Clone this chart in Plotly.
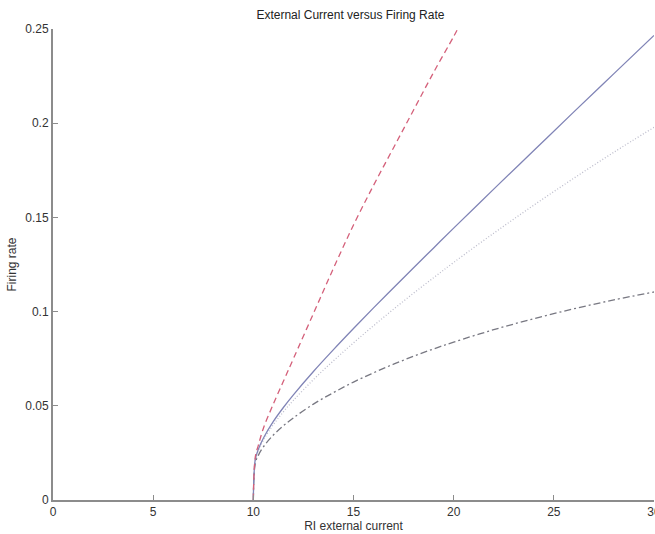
import plotly.graph_objects as go

# RI external current (x) values
current = [10, 10.1, 10.25, 10.5, 11, 11.5, 12, 13, 14, 15, 16, 17, 18, 19, 20,
           22, 24, 26, 28, 30]

# red dashed curve (leaves the plot at the top near x=20.2)
red_x = [10, 10.1, 10.25, 10.5, 11, 11.5, 12, 13, 14, 15, 16, 17, 18, 19, 20, 20.2]
red_y = [0, 0.023, 0.029, 0.038, 0.051, 0.063, 0.075, 0.099, 0.123, 0.146, 0.167,
         0.187, 0.207, 0.227, 0.246, 0.25]

# blue solid curve
blue_y = [0, 0.0217, 0.0269, 0.0328, 0.0417, 0.0491, 0.0558, 0.0682, 0.0798, 0.0910,
          0.1020, 0.1127, 0.1233, 0.1338, 0.1443, 0.1650, 0.1855, 0.2060, 0.2263, 0.2466]

# light dotted curve
dot_y = [0, 0.0212, 0.0262, 0.0318, 0.0400, 0.0468, 0.0529, 0.0639, 0.0739, 0.0834,
         0.0925, 0.1013, 0.1098, 0.1180, 0.1261, 0.1416, 0.1565, 0.1708, 0.1846, 0.1978]

# dash-dot curve
dashdot_y = [0, 0.0196, 0.0237, 0.0282, 0.0345, 0.0394, 0.0436, 0.0509, 0.0570, 0.0626,
             0.0675, 0.0721, 0.0763, 0.0802, 0.0838, 0.0904, 0.0962, 0.1015, 0.1062, 0.1104]

x_ticks = [0, 5, 10, 15, 20, 25, 30]
y_ticks = [0, 0.05, 0.1, 0.15, 0.2, 0.25]
y_tick_text = ["0", "0.05", "0.1", "0.15", "0.2", "0.25"]

fig = go.Figure()
fig.add_trace(go.Scatter(x=current, y=dashdot_y, mode="lines",
                         line=dict(color="#787882", width=1.3, dash="7px,3px,2px,3px", shape="spline")))
fig.add_trace(go.Scatter(x=current, y=dot_y, mode="lines",
                         line=dict(color="#bdbdcc", width=1.3, dash="1px,2px", shape="spline")))
fig.add_trace(go.Scatter(x=current, y=blue_y, mode="lines",
                         line=dict(color="#8084b6", width=1.3, shape="spline")))
fig.add_trace(go.Scatter(x=red_x, y=red_y, mode="lines",
                         line=dict(color="#d4607a", width=1.3, dash="6px,4px", shape="spline")))

font = dict(family="Liberation Sans, Arial, sans-serif", size=12, color="#333333")

fig.update_layout(
    width=655, height=534,
    margin=dict(l=53, r=1, t=29, b=34, autoexpand=False),
    paper_bgcolor="white", plot_bgcolor="white",
    showlegend=False,
    font=font,
    title=dict(text="External Current versus Firing Rate", x=0.535, xanchor="center",
               y=0.972, yanchor="middle", font=dict(size=12, color="#222222")),
)
fig.update_xaxes(range=[0, 30], tickvals=x_ticks, ticktext=[str(v) for v in x_ticks],
                 showgrid=False, zeroline=False, showline=True, linecolor="#8c8c8c",
                 linewidth=2, ticks="inside", ticklen=5, tickcolor="#8c8c8c",
                 tickfont=font, ticklabeloverflow="allow", automargin=False,
                 title=dict(text="RI external current", font=font, standoff=2))
fig.update_yaxes(range=[0, 0.25], tickvals=y_ticks, ticktext=y_tick_text,
                 showgrid=False, zeroline=False, showline=True, linecolor="#8c8c8c",
                 linewidth=2, ticks="inside", ticklen=5, tickcolor="#8c8c8c",
                 tickfont=font, automargin=False,
                 title=dict(text="Firing rate", font=font, standoff=6))

fig.write_html("out.html")
